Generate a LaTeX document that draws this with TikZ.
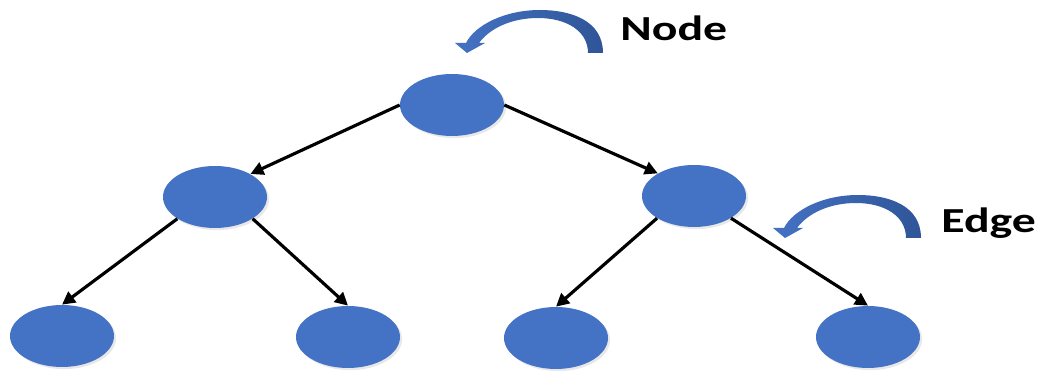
\documentclass[tikz,border=0pt]{standalone}
\usepackage{fontspec}
\setsansfont{Carlito}
\usepackage{xcolor}
\definecolor{treeBlue}{HTML}{4472C4}
\definecolor{treeNavy}{HTML}{2F5597}
\usepackage{tikz}
\usetikzlibrary{shapes.geometric, arrows.meta, shadows}

% thick bent arrow, tip at the origin
\tikzset{
    bentarrow/.pic={
        \shade[left color=treeBlue, right color=treeNavy]
            (121,0) -- (136,0)
            .. controls (136,-33) and (103,-43) .. (73,-43)
            .. controls (38,-43) and (8,-28) .. (-1,-10)
            -- (-12,-10) -- (0,0) -- (18,-10) -- (12,-10)
            .. controls (23,-25) and (45,-35) .. (71,-35)
            .. controls (98,-35) and (121,-23) .. (121,0) -- cycle;
    }
}

\begin{document}
\begin{tikzpicture}[
    x=0.02cm, y=-0.02cm,
    vertex/.style={ellipse, fill=treeBlue, minimum width=2.08cm, minimum height=1.24cm, inner sep=0pt,
        drop shadow={shadow xshift=1.2pt, shadow yshift=-1.2pt, opacity=0.18}},
    edge/.style={-{Triangle[length=2.6mm, width=2.6mm]}, line width=1.8pt, black},
    tag/.style={anchor=base west, inner sep=0pt, font=\sffamily\bfseries\fontsize{20}{24}\selectfont}
]
    \useasboundingbox (0,0) rectangle (1039,371);

    % Nodes
    \node[vertex] (root) at (452,105) {};
    \node[vertex] (left) at (215,197) {};
    \node[vertex] (right) at (694,196) {};
    \node[vertex] (leafA) at (62,336) {};
    \node[vertex] (leafB) at (348,337) {};
    \node[vertex] (leafC) at (556,338) {};
    \node[vertex] (leafD) at (868,337) {};

    % Connections
    \draw[edge] (root.west) -- (left.33);
    \draw[edge] (root.east) -- (right.148);
    \draw[edge] (left.210) -- (leafA.north);
    \draw[edge] (left.-30) -- (leafB.north);
    \draw[edge] (right.211) -- (leafC.north);
    \draw[edge] (right.-31) -- (leafD.north);

    % Labels
    \pic at (467,53) {bentarrow};
    \node[tag] (nodetag) at (620,41) {\scalebox{1.36}[1]{Node}};
    \pic at (785,238) {bentarrow};
    \node[tag] (edgetag) at (941,233) {\scalebox{1.36}[1]{Edge}};
\end{tikzpicture}
\end{document}
